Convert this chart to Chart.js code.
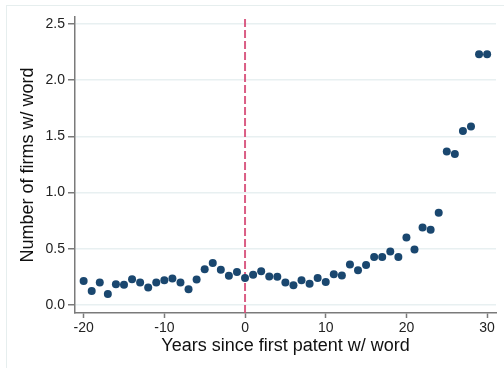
<!DOCTYPE html>
<html>
<head>
<meta charset="utf-8">
<script src="https://cdn.jsdelivr.net/npm/chart.js@4"></script>
<style>
  html, body { margin: 0; padding: 0; background: #fff; }
  #wrap { position: relative; width: 504px; height: 368px; overflow: hidden; }
  #frame { position: absolute; left: 6px; top: 5px; width: 600px; height: 400px;
           border-left: 1px solid #e6eeee; border-top: 1px solid #e6eeee; }
  canvas { position: absolute; left: 0; top: 0; }
</style>
</head>
<body>
<div id="wrap">
  <div id="frame"></div>
  <canvas id="chart" width="504" height="368"></canvas>
</div>
<script>
// years relative to the first patent containing the word
const years = [-20, -19, -18, -17, -16, -15, -14, -13, -12, -11, -10, -9, -8, -7, -6, -5, -4, -3, -2, -1,
  0, 1, 2, 3, 4, 5, 6, 7, 8, 9, 10, 11, 12, 13, 14, 15, 16, 17, 18, 19, 20,
  21, 22, 23, 24, 25, 26, 27, 28, 29, 30];
const firms = [0.215, 0.126, 0.20, 0.099, 0.186, 0.18, 0.23, 0.20, 0.156, 0.20, 0.22, 0.237, 0.20, 0.14, 0.228, 0.318, 0.374, 0.314, 0.26, 0.294,
  0.24, 0.27, 0.30, 0.255, 0.252, 0.20, 0.177, 0.22, 0.19, 0.24, 0.206, 0.275, 0.264, 0.36, 0.31, 0.356, 0.428, 0.428, 0.476, 0.428, 0.60,
  0.494, 0.69, 0.67, 0.82, 1.364, 1.343, 1.548, 1.586, 2.228, 2.228];

const xTicks = [-20, -10, 0, 10, 20, 30];
const yTicks = [0, 0.5, 1, 1.5, 2, 2.5];
const xRange = [-21.07, 31.1];
const yRange = [-0.07, 2.56];
const eventYear = 0;

const navy = '#1a476f';
const axisGray = '#7a7a7a';
const font = 'Liberation Sans, Arial, Helvetica, sans-serif';

new Chart(document.getElementById('chart'), {
  type: 'scatter',
  data: {
    datasets: [{
      data: years.map((x, i) => ({ x: x, y: firms[i] })),
      backgroundColor: navy,
      borderColor: navy,
      pointRadius: 4,
      pointBorderWidth: 0,
      order: 1,
    }, {
      type: 'line',
      data: [{ x: eventYear, y: yRange[0] }, { x: eventYear, y: yRange[1] }],
      borderColor: 'rgba(214, 76, 120, 0.9)',
      borderWidth: 2,
      borderDash: [8, 3],
      pointRadius: 0,
      fill: false,
      order: 2,
    }],
  },
  options: {
    responsive: false,
    animation: false,
    events: [],
    layout: { padding: { left: 0, right: 8, top: 17, bottom: 0 } },
    plugins: {
      legend: { display: false },
      tooltip: { enabled: false },
    },
    scales: {
      x: {
        type: 'linear',
        min: xRange[0],
        max: xRange[1],
        afterBuildTicks: scale => { scale.ticks = xTicks.map(v => ({ value: v })); },
        afterFit: scale => { scale.height = 55; },
        border: { display: true, color: axisGray, width: 1.5 },
        grid: { drawOnChartArea: false, drawTicks: true, tickLength: 5, tickColor: axisGray, tickWidth: 1.5 },
        ticks: { padding: 2, color: '#222', font: { family: font, size: 14 }, maxRotation: 0 },
        title: {
          display: true,
          text: 'Years since first patent w/ word',
          color: '#111',
          font: { family: font, size: 18 },
          padding: { top: 0, bottom: 11 },
        },
      },
      y: {
        type: 'linear',
        min: yRange[0],
        max: yRange[1],
        afterBuildTicks: scale => { scale.ticks = yTicks.map(v => ({ value: v })); },
        afterFit: scale => { scale.width = 75; },
        border: { display: true, color: axisGray, width: 1.5 },
        grid: { color: '#e8f0f1', lineWidth: 1.5, drawTicks: true, tickLength: 7, tickColor: axisGray, tickWidth: 1.5 },
        ticks: {
          padding: 3,
          color: '#222',
          font: { family: font, size: 14 },
          callback: v => v.toFixed(1),
        },
        title: {
          display: true,
          text: 'Number of firms w/ word',
          color: '#111',
          font: { family: font, size: 18 },
          padding: { top: 17, bottom: 0 },
        },
      },
    },
  },
});
</script>
</body>
</html>
